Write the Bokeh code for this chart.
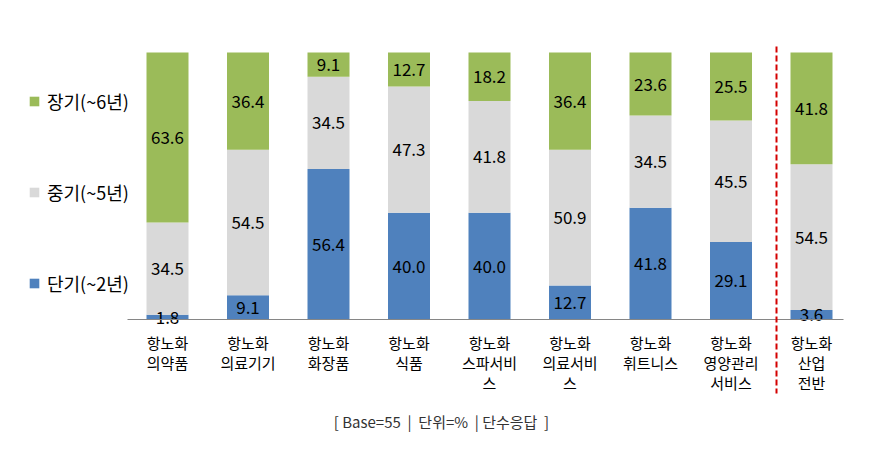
from bokeh.plotting import figure
from bokeh.models import Range1d, Legend, LegendItem, ColumnDataSource
from bokeh.core.properties import value
from bokeh.embed import file_html
from bokeh.resources import INLINE

categories = ["항노화\n의약품", "항노화\n의료기기", "항노화\n화장품", "항노화\n식품",
              "항노화\n스파서비\n스", "항노화\n의료서비\n스", "항노화\n휘트니스",
              "항노화\n영양관리\n서비스", "항노화\n산업\n전반"]
short_term = [1.8, 9.1, 56.4, 40.0, 40.0, 12.7, 41.8, 29.1, 3.6]
mid_term = [34.5, 54.5, 34.5, 47.3, 41.8, 50.9, 34.5, 45.5, 54.5]
long_term = [63.6, 36.4, 9.1, 12.7, 18.2, 36.4, 23.6, 25.5, 41.8]
series_names = ["단기(~2년)", "중기(~5년)", "장기(~6년)"]
note_text = "[ Base=55\u00a0 |\u00a0 단위=%\u00a0 |\u00a0단수응답\u00a0 ]"

FONT = "Noto Sans CJK KR"
C_SHORT, C_MID, C_LONG = "#4F81BD", "#D9D9D9", "#9BBB59"

W, H = 869, 435
# pixel layout constants (image coordinates)
PX_C0, PX_STEP = 167.0, 80.5     # first category centre, spacing
PY_0, PY_SCALE = 319.0, 2.67     # y of 0 %, px per %

x0 = -PX_C0 / PX_STEP
x1 = x0 + W / PX_STEP
y1 = PY_0 / PY_SCALE
y0 = y1 - H / PY_SCALE

def dx(px):
    return (px - PX_C0) / PX_STEP

def dy(py):
    return (PY_0 - py) / PY_SCALE

p = figure(width=W, height=H, output_backend="svg", toolbar_location=None,
           x_range=Range1d(x0, x1), y_range=Range1d(y0, y1),
           x_axis_location=None, y_axis_location=None, min_border=0)
p.grid.visible = False
p.outline_line_color = None
p.background_fill_color = "white"

n = len(categories)
xs = list(range(n))
tot = [a + b + c for a, b, c in zip(short_term, mid_term, long_term)]
s_top = [a / t * 100 for a, t in zip(short_term, tot)]
m_top = [(a + b) / t * 100 for a, b, t in zip(short_term, mid_term, tot)]
l_top = [100.0] * n

src = ColumnDataSource(dict(x=xs, s0=[0] * n, s1=s_top, m1=m_top, l1=l_top))
bw = 42 / PX_STEP
r_s = p.vbar(x="x", bottom="s0", top="s1", width=bw, source=src, fill_color=C_SHORT, line_color=None)
r_m = p.vbar(x="x", bottom="s1", top="m1", width=bw, source=src, fill_color=C_MID, line_color=None)
r_l = p.vbar(x="x", bottom="m1", top="l1", width=bw, source=src, fill_color=C_LONG, line_color=None)

# value labels
lx, ly, lt = [], [], []
for i in range(n):
    for v, b, t in ((short_term[i], 0, s_top[i]), (mid_term[i], s_top[i], m_top[i]), (long_term[i], m_top[i], 100)):
        lx.append(i); ly.append((b + t) / 2); lt.append(f"{v:.1f}")
p.text(x=lx, y=ly, text=lt, text_align="center", text_baseline="middle",
       text_font=value(FONT), text_font_size="17px", text_color="#000000")

# axis line
p.segment(x0=[dx(127)], y0=[0], x1=[dx(843)], y1=[0], line_color="#868686", line_width=1)

# category labels
p.text(x=xs, y=[dy(331)] * n, text=categories, text_align="center", text_baseline="top",
       text_font=value(FONT), text_font_size="15px", text_color="#000000", text_line_height=0.96)

# red dashed divider
p.segment(x0=[dx(776)], y0=[dy(46)], x1=[dx(776)], y1=[dy(393)],
          line_color="#D40000", line_width=2, line_dash="6 3")

# note
p.text(x=[dx(441)], y=[dy(421)], text=[note_text], text_align="center", text_baseline="middle",
       text_font=value(FONT), text_font_size="15px", text_color="#333333")

legend = Legend(items=[LegendItem(label=series_names[2], renderers=[r_l]),
                       LegendItem(label=series_names[1], renderers=[r_m]),
                       LegendItem(label=series_names[0], renderers=[r_s])],
                location=(28, 139), orientation="vertical", spacing=65, padding=0, margin=0,
                glyph_width=12, glyph_height=12, label_height=20, label_standoff=7,
                label_text_font=FONT, label_text_font_size="18px", label_text_color="#000000",
                border_line_color=None, background_fill_alpha=0)
p.add_layout(legend)

open("out.html", "w").write(file_html(p, INLINE))
